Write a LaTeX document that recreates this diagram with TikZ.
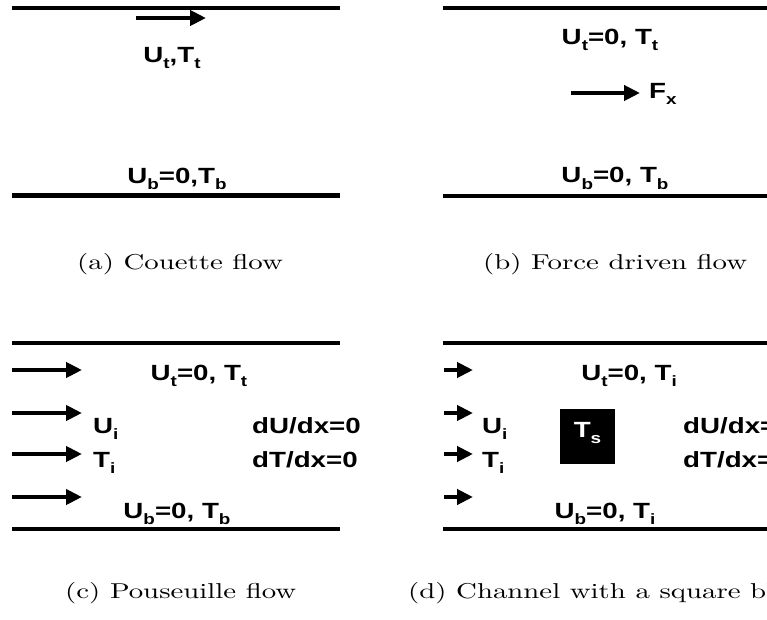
\documentclass[tikz,border=0pt]{standalone}
\usepackage{graphicx}
\usepackage{fontspec}
\newfontfamily\etiqfont{Liberation Sans}
\newfontfamily\leyfont{lmroman10-regular.otf}
\usetikzlibrary{
    positioning,
    arrows.meta
}
\tikzset{
    >={Triangle[length=16pt,width=15pt]},
    pared/.style={line width=4.5pt},
    flujo/.style={->, line width=4.5pt},
    etiqueta/.style={
        inner sep=0pt,
        font=\etiqfont\bfseries\fontsize{22}{26}\selectfont
    },
    leyenda/.style={
        inner sep=0pt,
        font=\leyfont\fontsize{21.5}{26}\selectfont
    },
    bloque/.style={
        fill=black,
        text=white,
        minimum width=55pt,
        minimum height=55pt,
        inner sep=0pt
    }
}
\newcommand{\ancho}[1]{\scalebox{1.26}[1]{#1}}
\newcommand{\ancholey}[1]{\scalebox{1.34}[1]{#1}}
\newcommand{\sbi}[1]{\raisebox{-6pt}{\fontsize{15}{15}\selectfont #1}}

\begin{document}
\begin{tikzpicture}[
    x=1pt,
    y=-1pt
]
    \useasboundingbox (0,0) rectangle (767,620);

    % (a) Couette
    \draw[pared] (12,8) -- (340,8);
    \draw[pared] (12,195.5) -- (340,195.5);
    \coordinate (as) at (136,18);
    \coordinate (ae) at (206,18);
    \draw[flujo] (as) -- (ae);
    \node[etiqueta, anchor=base] (atop) at (172,63)  {\ancho{U\sbi{t},T\sbi{t}}};
    \node[etiqueta, anchor=base] (abot) at (177,184) {\ancho{U\sbi{b}=0,T\sbi{b}}};
    \node[leyenda, anchor=base west] (capa) at (77,269) {\ancholey{(a) Couette flow}};

    % (b) Fuerza
    \draw[pared] (443,8) -- (767,8);
    \draw[pared] (443,196) -- (767,196);
    \coordinate (bs) at (571,93);
    \coordinate (be) at (640,93);
    \draw[flujo] (bs) -- (be);
    \node[etiqueta, anchor=base]      (btop) at (610,45)  {\ancho{U\sbi{t}=0, T\sbi{t}}};
    \node[etiqueta, anchor=base west] (bfx)  at (649,99)  {\ancho{F\sbi{x}}};
    \node[etiqueta, anchor=base]      (bbot) at (615,183) {\ancho{U\sbi{b}=0, T\sbi{b}}};
    \node[leyenda, anchor=base west] (capb) at (483,269) {\ancholey{(b) Force driven flow}};

    % (c) Pouseuille
    \draw[pared] (12,343) -- (340,343);
    \draw[pared] (12,529) -- (340,529);
    \coordinate (c1s) at (12,370);
    \coordinate (c1e) at (82,370);
    \coordinate (c2s) at (12,413);
    \coordinate (c2e) at (82,413);
    \coordinate (c3s) at (12,454);
    \coordinate (c3e) at (82,454);
    \coordinate (c4s) at (12,497);
    \coordinate (c4e) at (82,497);
    \draw[flujo] (c1s) -- (c1e);
    \draw[flujo] (c2s) -- (c2e);
    \draw[flujo] (c3s) -- (c3e);
    \draw[flujo] (c4s) -- (c4e);
    \node[etiqueta, anchor=base]      (ctop) at (199,380) {\ancho{U\sbi{t}=0, T\sbi{t}}};
    \node[etiqueta, anchor=base west] (cui)  at (93,433)  {\ancho{U\sbi{i}}};
    \node[etiqueta, anchor=base west] (cti)  at (93,467)  {\ancho{T\sbi{i}}};
    \node[etiqueta, anchor=base west] (cdu)  at (252,433) {\ancho{dU/dx=0}};
    \node[etiqueta, anchor=base west] (cdt)  at (252,467) {\ancho{dT/dx=0}};
    \node[etiqueta, anchor=base]      (cbot) at (177,518) {\ancho{U\sbi{b}=0, T\sbi{b}}};
    \node[leyenda, anchor=base west] (capc) at (65,598) {\ancholey{(c) Pouseuille flow}};

    % (d) Canal con bloque
    \draw[pared] (443,343) -- (767,343);
    \draw[pared] (443,529) -- (767,529);
    \coordinate (d1s) at (444,370);
    \coordinate (d1e) at (473,370);
    \coordinate (d2s) at (444,413);
    \coordinate (d2e) at (473,413);
    \coordinate (d3s) at (444,454);
    \coordinate (d3e) at (473,454);
    \coordinate (d4s) at (444,497);
    \coordinate (d4e) at (473,497);
    \draw[flujo] (d1s) -- (d1e);
    \draw[flujo] (d2s) -- (d2e);
    \draw[flujo] (d3s) -- (d3e);
    \draw[flujo] (d4s) -- (d4e);
    \node[etiqueta, anchor=base]      (dtop) at (629,380) {\ancho{U\sbi{t}=0, T\sbi{i}}};
    \node[etiqueta, anchor=base west] (dui)  at (482,433) {\ancho{U\sbi{i}}};
    \node[etiqueta, anchor=base west] (dti)  at (482,467) {\ancho{T\sbi{i}}};
    \node[bloque, etiqueta, minimum width=55pt, minimum height=55pt,
          text height=16pt, text depth=15pt] (blq) at (587.5,436.5) {\ancho{T\sbi{s}}};
    \node[etiqueta, anchor=base west] (ddu)  at (683,433) {\ancho{dU/dx=0}};
    \node[etiqueta, anchor=base west] (ddt)  at (683,467) {\ancho{dT/dx=0}};
    \node[etiqueta, anchor=base]      (dbot) at (605,518) {\ancho{U\sbi{b}=0, T\sbi{i}}};
    \node[leyenda, anchor=base west] (capd) at (408,598) {\ancholey{(d) Channel with a square block}};

\end{tikzpicture}
\end{document}
